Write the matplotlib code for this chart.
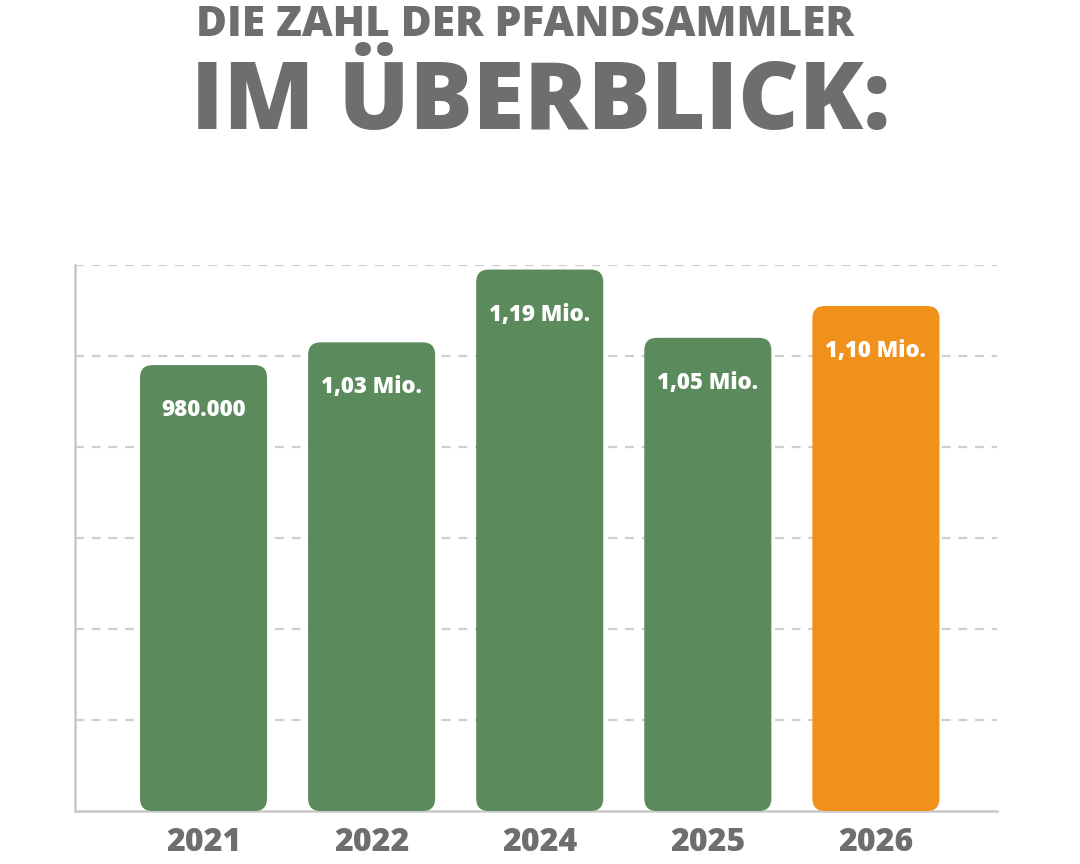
import matplotlib
matplotlib.use("Agg")
import matplotlib.pyplot as plt
from matplotlib.patches import FancyBboxPatch

years = ["2021", "2022", "2024", "2025", "2026"]
values = [980000, 1030000, 1190000, 1040000, 1110000]
labels = ["980.000", "1,03 Mio.", "1,19 Mio.", "1,05 Mio.", "1,10 Mio."]
colors = ["#5b8a5c", "#5b8a5c", "#5b8a5c", "#5b8a5c", "#ef911a"]

plt.rcParams["font.family"] = ["Open Sans", "DejaVu Sans"]
grey = "#6e6e70"

fig = plt.figure(figsize=(10.8, 8.64), dpi=100)
ax = fig.add_axes([0.0694, 0.0613, 0.8537, 0.632])

x = list(range(len(years)))
bars = ax.bar(x, values, width=0.756, color=colors, linewidth=0)

# swap plain bars for rounded ones, same geometry
for b, c in zip(bars, colors):
    b.set_visible(False)
    rb = FancyBboxPatch((b.get_x(), b.get_y()), b.get_width(), b.get_height(),
                        boxstyle="round,pad=0,rounding_size=0.075",
                        mutation_aspect=370000, facecolor=c, edgecolor="none", zorder=3)
    ax.add_patch(rb)

for xi, v, lab in zip(x, values, labels):
    ax.annotate(lab, (xi, v), xytext=(0, -45), textcoords="offset pixels",
                ha="center", va="center", color="white", fontsize=16,
                fontweight=800, zorder=4)

ax.set_xlim(-0.765, 4.72)
ax.set_ylim(0, 1200000)
ax.set_yticks([200000, 400000, 600000, 800000, 1000000, 1200000])
ax.yaxis.grid(True, color="#cfcfcf", linestyle=(0, (4, 3.5)), linewidth=1.6)
ax.set_axisbelow(True)
ax.tick_params(axis="y", left=False, labelleft=False)
ax.tick_params(axis="x", bottom=False, pad=8)
ax.set_xticks(x)
ax.set_xticklabels(years, fontsize=23, fontweight=800, color=grey)

for s in ["top", "right"]:
    ax.spines[s].set_visible(False)
for s in ["left", "bottom"]:
    ax.spines[s].set_color("#c8c8c8")
    ax.spines[s].set_linewidth(1.8)

fig.text(0.1815, 0.971, "DIE ZAHL DER PFANDSAMMLER", fontsize=30.5, fontweight=800,
         color=grey, ha="left", va="center")
fig.text(0.177, 0.879, "IM ÜBERBLICK:", fontsize=67.5, fontweight=800,
         color=grey, ha="left", va="center")

plt.savefig("out.png", dpi=100)
